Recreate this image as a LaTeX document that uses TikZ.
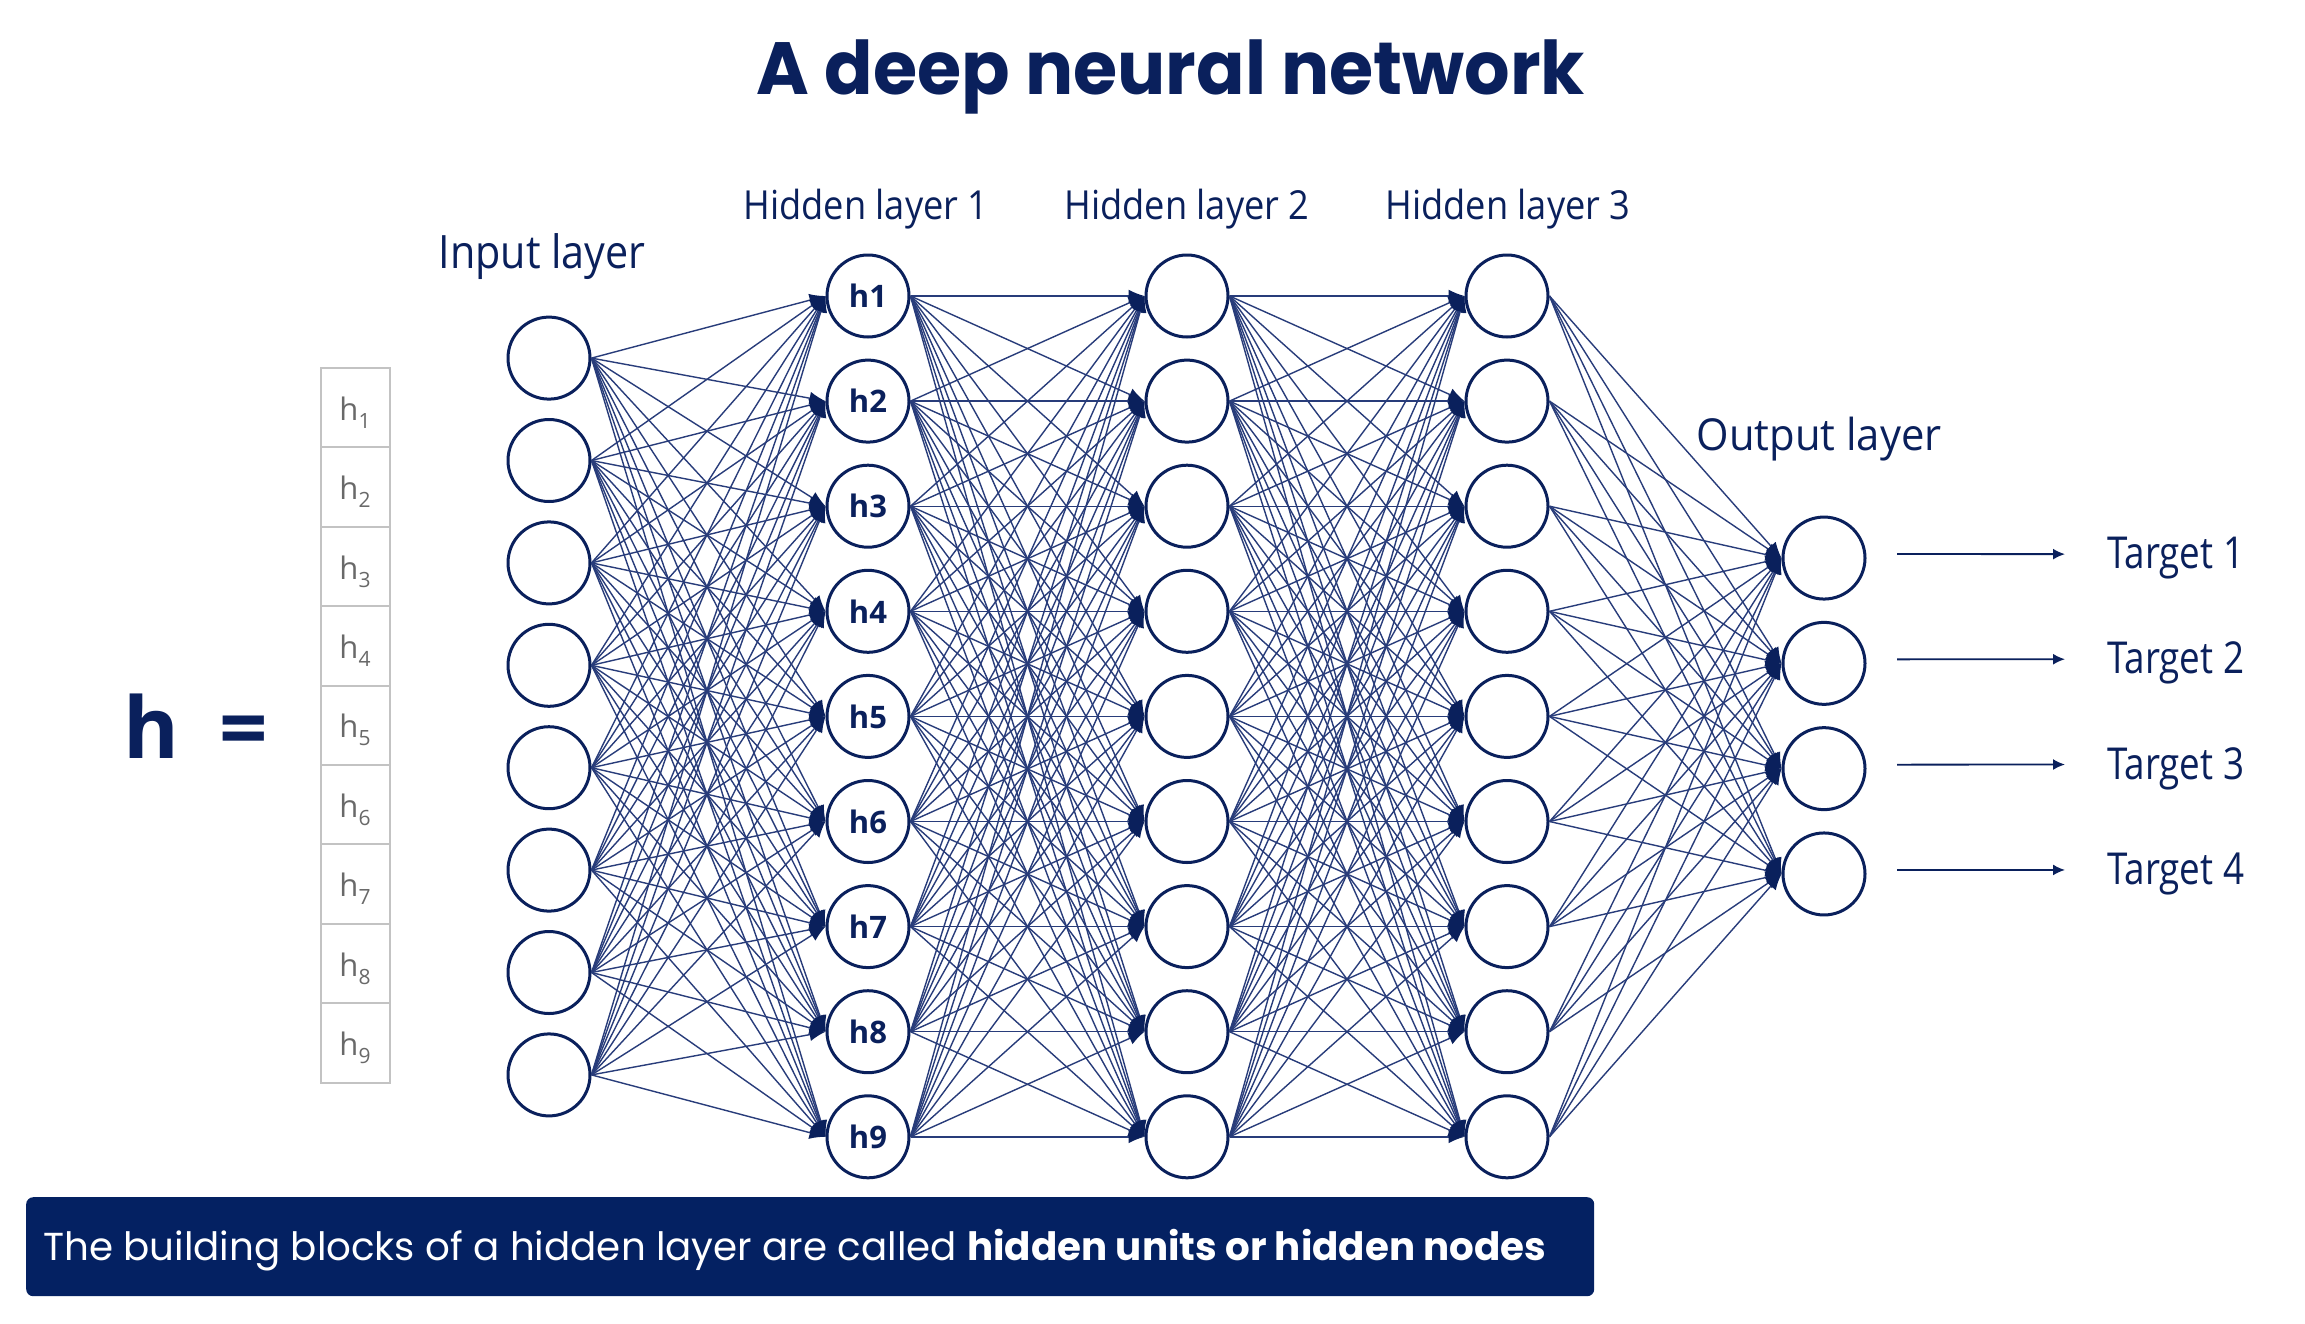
\documentclass[tikz,border=0pt]{standalone}
\usepackage{fontspec}
\usepackage{graphicx}
\setmainfont{Open Sans}
\newfontfamily\poppfont{Poppins}
\usetikzlibrary{arrows.meta}
\definecolor{navy}{RGB}{10,32,92}
\definecolor{edgecol}{RGB}{40,60,122}
\definecolor{cellgray}{RGB}{195,195,195}
\definecolor{subgray}{RGB}{105,105,105}
\definecolor{bannerblue}{RGB}{4,33,98}
\newcommand{\fitw}[2]{\resizebox{#1}{\height}{#2}}
\begin{document}
\begin{tikzpicture}[x=1pt,y=-1pt,
  neuron/.style={circle,draw=navy,line width=3pt,minimum size=82pt,inner sep=0pt,fill=white,font=\fontsize{31}{31}\selectfont\bfseries,text=navy},
  conn/.style={draw=edgecol,line width=1.4pt,-{Latex[length=16pt,width=13pt,color=navy]}},
  outarrow/.style={draw=navy,line width=1.8pt,-{Latex[length=12pt,width=11pt]}},
  lbl/.style={inner sep=0pt,anchor=base,text=navy},
  cellbox/.style={draw=cellgray,line width=2pt,minimum width=69pt,minimum height=79.4pt,inner sep=0pt,text=subgray,text height=25pt,text depth=0pt}
]
\useasboundingbox (0,0) rectangle (2305,1323);
\fill[white] (0,0) rectangle (2305,1323);

% title
\node[lbl] (title) at (1171,94) {\fitw{828pt}{\poppfont\bfseries\fontsize{74}{80}\selectfont A deep neural network}};

% layer labels
\node[lbl] (lin) at (542,268) {\fitw{207pt}{\fontsize{46}{50}\selectfont Input layer}};
\node[lbl] (lh1) at (866,219) {\fitw{245pt}{\fontsize{40}{44}\selectfont Hidden layer 1}};
\node[lbl] (lh2) at (1187,219) {\fitw{245pt}{\fontsize{40}{44}\selectfont Hidden layer 2}};
\node[lbl] (lh3) at (1508,219) {\fitw{245pt}{\fontsize{40}{44}\selectfont Hidden layer 3}};
\node[lbl] (lout) at (1819,450) {\fitw{245pt}{\fontsize{44}{48}\selectfont Output layer}};

% neurons
\foreach \k in {1,...,8} \node[neuron] (i\k) at (549,{716.5+(\k-4.5)*102.4}) {};
\foreach \k in {1,...,9} {
  \node[neuron] (a\k) at (868,{296+(\k-1)*105.1}) {h\k};
  \node[neuron] (b\k) at (1187,{296+(\k-1)*105.1}) {};
  \node[neuron] (c\k) at (1507,{296+(\k-1)*105.1}) {};
}
\foreach \k in {1,...,4} \node[neuron] (o\k) at (1824,{716+(\k-2.5)*105.3}) {};

% connections
\foreach \p in {1,...,8} \foreach \q in {1,...,9} \draw[conn] (i\p.east) -- (a\q.west);
\foreach \p in {1,...,9} \foreach \q in {1,...,9} {
  \draw[conn] (a\p.east) -- (b\q.west);
  \draw[conn] (b\p.east) -- (c\q.west);
}
\foreach \p in {1,...,9} \foreach \q in {1,...,4} \draw[conn] (c\p.east) -- (o\q.west);

% targets
\foreach \k in {1,...,4} {
  \node[lbl,anchor=base west] (t\k) at (2107,{716+(\k-2.5)*105.3+10.5}) {\fitw{137pt}{\fontsize{44}{48}\selectfont Target \k}};
  \draw[outarrow] ([xshift=30.5pt,yshift=4pt]o\k.east) -- ([xshift=-42pt,yshift=4pt]t\k.west);
}

% h vector
\node[lbl] (hbig) at (151,758) {\bfseries\fontsize{85}{90}\selectfont h};
\node[lbl] (eq) at (244,758) {\bfseries\fontsize{85}{90}\selectfont =};
\foreach \k in {1,...,9} \node[cellbox] (v\k) at (355,{368+(\k-0.5)*79.4}) {\fontsize{31}{31}\selectfont h\raisebox{-8pt}{\fontsize{21}{21}\selectfont\k}};

% banner
\node[fill=bannerblue,rounded corners=7pt,minimum width=1568pt,minimum height=99pt,anchor=north west,inner sep=0pt] (banner) at (26,1197) {};
\node[lbl,anchor=base west,text=white] (btext) at (43,1260) {\fitw{1503pt}{\poppfont\fontsize{39}{44}\selectfont The building blocks of a hidden layer are called \bfseries hidden units or hidden nodes}};
\end{tikzpicture}
\end{document}
